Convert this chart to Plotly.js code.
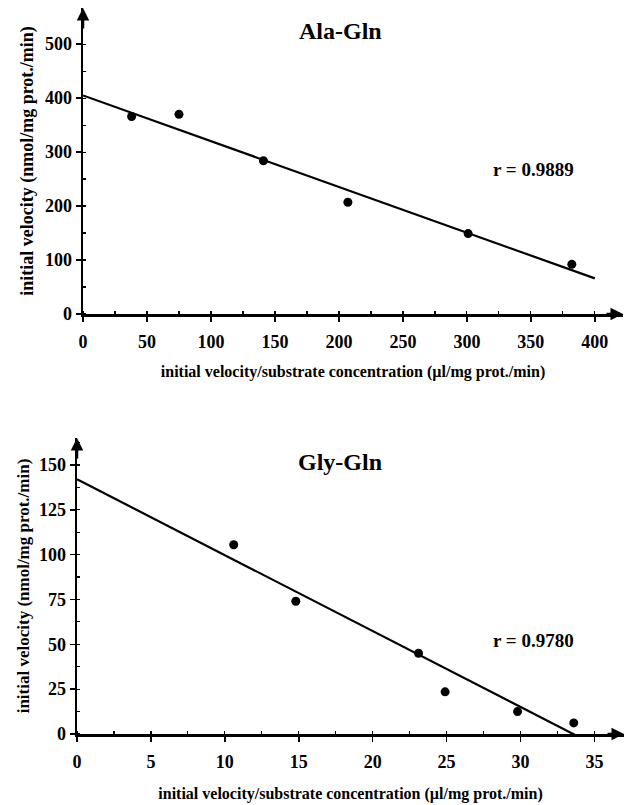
<!DOCTYPE html>
<html><head><meta charset="utf-8">
<script src="https://cdn.plot.ly/plotly-3.0.1.min.js"></script>
<style>html,body{margin:0;padding:0;background:#fff}#chart{width:625px;height:805px}</style>
</head><body><div id="chart"></div>
<script>
// Ala-Gln data
const alaX = [38, 75, 141, 207, 301, 382];
const alaY = [366, 370, 284, 207, 149, 92];
const alaFitX = [0, 400];
const alaFitY = [405, 66];
const alaR = "r = 0.9889";
// Gly-Gln data
const glyX = [10.6, 14.8, 23.1, 24.9, 29.8, 33.6];
const glyY = [105.5, 74, 45, 23.5, 12.5, 6.2];
const glyFitX = [0, 33.8];
const glyFitY = [142, -1];
const glyR = "r = 0.9780";
const alaTicks = [0, 50, 100, 150, 200, 250, 300, 350, 400];
const alaYTicks = [0, 100, 200, 300, 400, 500];
const glyTicks = [0, 5, 10, 15, 20, 25, 30, 35];
const glyYTicks = [0, 25, 50, 75, 100, 125, 150];

const F = "Liberation Serif, Times New Roman, serif";
const tickFont = {family: F, size: 18, color: "#000", weight: "bold"};
const xTitleFont = {family: F, size: 16, color: "#000", weight: "bold"};

const traces = [
  {x: alaFitX, y: alaFitY, xaxis: "x", yaxis: "y", mode: "lines", line: {color: "#000", width: 2.2}, hoverinfo: "skip"},
  {x: alaX, y: alaY, xaxis: "x", yaxis: "y", mode: "markers", marker: {color: "#000", size: 9}},
  {x: glyFitX, y: glyFitY, xaxis: "x2", yaxis: "y2", mode: "lines", line: {color: "#000", width: 2.2}, hoverinfo: "skip"},
  {x: glyX, y: glyY, xaxis: "x2", yaxis: "y2", mode: "markers", marker: {color: "#000", size: 9}}
];

const baseAx = {showgrid: false, zeroline: false, showline: true, linecolor: "#000", linewidth: 2.5,
  ticks: "outside", ticklen: 5, tickwidth: 1.5, tickcolor: "#000", tickfont: tickFont, fixedrange: true};
const overAx = {showgrid: false, zeroline: false, showline: false, ticks: "inside", ticklen: 5, tickwidth: 1.5,
  tickcolor: "#000", showticklabels: false, fixedrange: true};

const layout = {
  width: 625, height: 805, margin: {l: 0, r: 0, t: 0, b: 0},
  paper_bgcolor: "#fff", plot_bgcolor: "rgba(0,0,0,0)", showlegend: false,
  xaxis: Object.assign({}, baseAx, {domain: [83/625, 623/625], range: [0, 422], anchor: "y",
    tickmode: "array", tickvals: alaTicks, ticktext: alaTicks.map(String), ticklabelstandoff: 5,
    minor: {ticks: "inside", ticklen: 3, dtick: 25, tick0: 0, tickcolor: "#000", tickwidth: 1.2},
    title: {text: "initial velocity/substrate concentration (\u00b5l/mg prot./min)", font: xTitleFont, standoff: 15}}),
  yaxis: Object.assign({}, baseAx, {domain: [1 - 314/805, 1 - 8/805], range: [0, 567], anchor: "x",
    tickmode: "array", tickvals: alaYTicks, ticktext: alaYTicks.map(String),
    minor: {ticks: "inside", ticklen: 3, dtick: 50, tick0: 0, tickcolor: "#000", tickwidth: 1.2},
    title: {text: "initial velocity (nmol/mg prot./min)", font: {family: F, size: 18, color: "#000", weight: "bold"}, standoff: 7}}),
  xaxis2: Object.assign({}, baseAx, {domain: [77/625, 624/625], range: [0, 37], anchor: "y2",
    tickmode: "array", tickvals: glyTicks, ticktext: glyTicks.map(String), ticklabelstandoff: 5,
    minor: {ticks: "inside", ticklen: 3, dtick: 2.5, tick0: 0, tickcolor: "#000", tickwidth: 1.2},
    title: {text: "initial velocity/substrate concentration (\u00b5l/mg prot./min)", font: xTitleFont, standoff: 17}}),
  yaxis2: Object.assign({}, baseAx, {domain: [1 - 734/805, 1 - 438/805], range: [0, 165], anchor: "x2",
    tickmode: "array", tickvals: glyYTicks, ticktext: glyYTicks.map(String),
    minor: {ticks: "inside", ticklen: 3, dtick: 12.5, tick0: 0, tickcolor: "#000", tickwidth: 1.2},
    title: {text: "initial velocity (nmol/mg prot./min)", font: {family: F, size: 17, color: "#000", weight: "bold"}, standoff: 5}}),
  xaxis3: Object.assign({}, overAx, {overlaying: "x", matches: "x", anchor: "y", tickmode: "array", tickvals: alaTicks}),
  yaxis3: Object.assign({}, overAx, {overlaying: "y", matches: "y", anchor: "x", tickmode: "array", tickvals: alaYTicks}),
  xaxis4: Object.assign({}, overAx, {overlaying: "x2", matches: "x2", anchor: "y2", tickmode: "array", tickvals: glyTicks}),
  yaxis4: Object.assign({}, overAx, {overlaying: "y2", matches: "y2", anchor: "x2", tickmode: "array", tickvals: glyYTicks}),
  annotations: [
    {xref: "paper", yref: "paper", x: 340/625, y: 1 - 31/805, text: "<b>Ala-Gln</b>", showarrow: false,
      font: {family: F, size: 24, color: "#000"}, xanchor: "center", yanchor: "middle"},
    {xref: "paper", yref: "paper", x: 340/625, y: 1 - 462/805, text: "<b>Gly-Gln</b>", showarrow: false,
      font: {family: F, size: 24, color: "#000"}, xanchor: "center", yanchor: "middle"},
    {xref: "x", yref: "y", x: 352, y: 268, text: "<b>" + alaR + "</b>", showarrow: false,
      font: {family: F, size: 19, color: "#000"}},
    {xref: "x2", yref: "y2", x: 30.9, y: 52.4, text: "<b>" + glyR + "</b>", showarrow: false,
      font: {family: F, size: 19, color: "#000"}},
    {xref: "x", yref: "y", x: 0, y: 567, ax: 0, ay: 22, text: "", showarrow: true, arrowhead: 2, arrowsize: 1, arrowwidth: 2.5, arrowcolor: "#000"},
    {xref: "x", yref: "y", x: 422, y: 0, ax: -18, ay: 0, text: "", showarrow: true, arrowhead: 2, arrowsize: 1, arrowwidth: 2.5, arrowcolor: "#000"},
    {xref: "x2", yref: "y2", x: 0, y: 165, ax: 0, ay: 22, text: "", showarrow: true, arrowhead: 2, arrowsize: 1, arrowwidth: 2.5, arrowcolor: "#000"},
    {xref: "x2", yref: "y2", x: 37, y: 0, ax: -18, ay: 0, text: "", showarrow: true, arrowhead: 2, arrowsize: 1, arrowwidth: 2.5, arrowcolor: "#000"}
  ]
};
Plotly.newPlot("chart", traces, layout, {displayModeBar: false, staticPlot: true});
</script></body></html>
